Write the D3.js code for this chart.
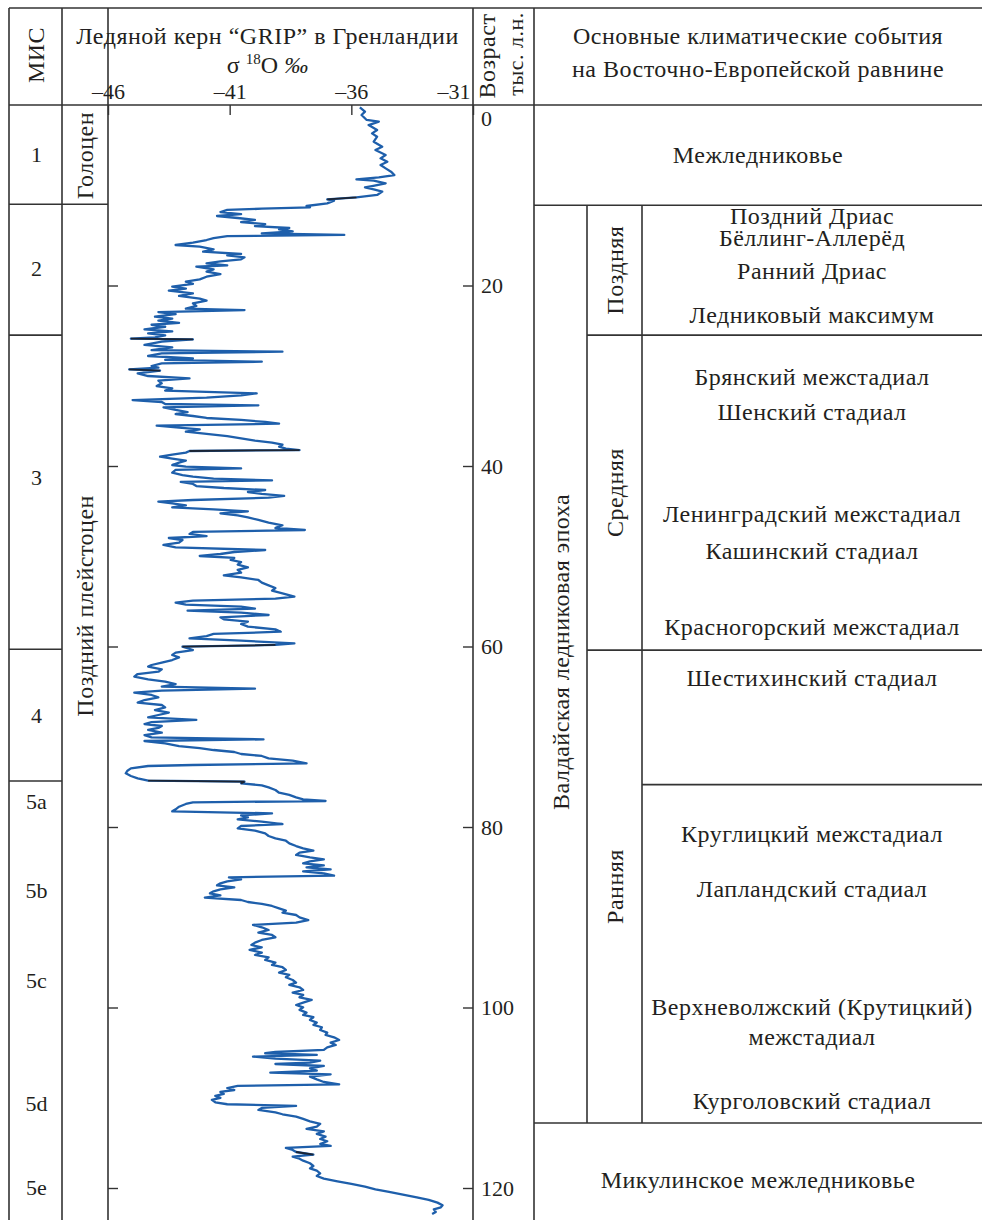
<!DOCTYPE html>
<html>
<head>
<meta charset="utf-8">
<script src="https://cdn.jsdelivr.net/npm/d3@7"></script>
<style>
  body { margin: 0; background: #fff; }
  text { font-family: "Liberation Serif", "Times New Roman", serif; fill: #231f20; }
</style>
</head>
<body>
<svg id="chart" width="982" height="1220"></svg>
<script>
// GRIP ice core samples: [age, thousand years BP; δ18O, ‰]
const gripSamples = [
  [0.26,-35.65],[0.74,-35.44],[1.11,-35.58],[1.66,-35.37],[1.85,-34.87],[2.22,-35.29],[2.77,-34.94],[3.14,-35.15],
  [3.51,-34.94],[4.06,-35.08],[4.62,-34.73],[4.99,-35.01],[5.54,-34.59],[5.91,-34.80],[6.28,-34.52],[6.65,-34.80],
  [7.02,-34.59],[7.39,-34.37],[7.76,-34.23],[8.01,-34.87],[8.24,-35.79],[8.39,-35.08],[8.68,-34.59],[8.98,-35.15],
  [9.12,-35.44],[9.35,-35.08],[9.60,-34.73],[9.97,-34.94],[10.23,-35.79],[10.45,-36.99],[10.60,-36.71],[10.90,-36.99],
  [11.19,-37.84],[11.34,-37.70],[11.49,-39.68],[11.63,-41.10],[11.86,-41.38],[12.08,-40.53],[12.30,-41.52],[12.52,-40.67],
  [12.74,-39.96],[12.97,-40.53],[13.19,-39.54],[13.41,-39.96],[13.63,-38.55],[13.78,-38.97],[14.00,-38.41],[14.22,-39.68],
  [14.40,-36.29],[14.52,-41.10],[14.74,-41.66],[14.96,-41.95],[15.25,-42.51],[15.51,-43.22],[15.70,-42.23],[15.99,-41.66],
  [16.25,-42.09],[16.51,-40.53],[16.66,-41.10],[16.88,-40.39],[17.10,-40.53],[17.32,-41.38],[17.55,-41.95],[17.77,-41.10],
  [17.92,-42.37],[18.21,-41.66],[18.47,-41.95],[18.73,-41.38],[19.03,-41.95],[19.32,-42.23],[19.58,-42.80],[19.83,-42.51],
  [20.13,-43.36],[20.35,-42.80],[20.57,-43.50],[20.87,-42.51],[21.16,-43.08],[21.46,-42.23],[21.68,-41.95],[21.98,-42.51],
  [22.27,-42.37],[22.57,-42.80],[22.72,-40.39],[22.94,-43.93],[23.16,-43.22],[23.46,-44.07],[23.68,-43.36],[23.90,-43.93],
  [24.13,-43.08],[24.35,-44.21],[24.57,-43.65],[24.86,-44.50],[25.08,-43.36],[25.30,-44.35],[25.52,-43.65],[25.74,-44.07],
  [25.89,-45.06],[25.97,-42.51],
  [26.22,-43.79],[26.59,-44.50],[26.85,-43.36],[27.15,-44.21],[27.33,-38.83],[27.52,-43.79],[27.81,-44.35],[28.07,-42.51],
  [28.25,-43.65],[28.44,-39.68],[28.62,-43.79],[28.92,-44.21],[29.10,-43.93],[29.29,-45.13],[29.44,-43.86],[29.73,-44.78],
  [30.03,-44.35],[30.29,-42.65],[30.54,-43.93],[30.84,-43.79],[31.14,-44.00],[31.39,-43.36],[31.65,-43.65],[31.95,-39.89],
  [32.17,-40.53],[32.43,-41.95],[32.69,-44.99],[32.91,-43.79],[33.13,-43.65],[33.28,-39.82],[33.50,-43.72],[33.79,-43.22],
  [34.02,-42.73],[34.24,-43.22],[34.46,-42.51],[34.68,-41.95],[34.90,-40.53],[35.12,-39.54],[35.31,-38.97],[35.53,-44.00],
  [35.75,-43.08],[35.94,-42.23],[36.20,-42.80],[36.45,-41.95],[36.68,-41.10],[36.93,-40.53],[37.19,-39.96],[37.41,-39.26],
  [37.64,-38.83],[37.86,-38.97],[38.08,-38.69],[38.23,-38.13],[38.34,-42.65],[38.52,-42.80],[38.74,-43.36],[38.97,-43.86],
  [39.19,-43.36],[39.41,-42.80],[39.63,-43.08],[39.89,-43.36],[40.07,-42.80],[40.26,-40.53],[40.44,-43.22],[40.74,-43.36],
  [41.00,-42.94],[41.18,-42.51],[41.40,-41.66],[41.59,-39.26],[41.77,-43.01],[41.99,-42.51],[42.22,-42.37],[42.44,-41.24],
  [42.66,-39.54],[42.88,-40.25],[43.10,-39.68],[43.32,-38.76],[43.51,-39.40],[43.77,-42.51],[43.95,-43.93],[44.14,-43.36],
  [44.36,-42.80],[44.58,-43.36],[44.80,-41.66],[45.02,-40.25],[45.24,-41.38],[45.47,-40.67],[45.69,-40.25],[45.98,-39.82],
  [46.28,-39.40],[46.57,-38.83],[46.87,-39.12],[47.09,-37.91],[47.31,-42.51],[47.53,-42.65],[47.76,-41.95],[47.98,-43.50],
  [48.20,-42.94],[48.49,-43.08],[48.75,-43.72],[49.01,-43.22],[49.31,-39.54],[49.53,-40.81],[49.75,-41.38],[49.97,-42.23],
  [50.19,-40.81],[50.41,-40.96],[50.64,-40.53],[50.93,-40.67],[51.23,-40.25],[51.52,-40.67],[51.82,-40.53],[52.11,-41.24],
  [52.34,-40.53],[52.63,-39.82],[52.93,-39.68],[53.22,-39.40],[53.52,-39.12],[53.81,-39.26],[54.11,-38.83],[54.48,-38.34],
  [54.70,-39.12],[54.92,-42.51],[55.14,-43.22],[55.36,-42.80],[55.59,-40.53],[55.81,-39.96],[56.03,-42.73],[56.25,-40.53],
  [56.51,-39.40],[56.77,-41.38],[56.99,-41.24],[57.25,-40.25],[57.51,-40.53],[57.80,-40.25],[58.10,-39.12],[58.36,-38.90],
  [58.61,-41.66],[58.84,-41.95],[59.09,-42.65],[59.35,-40.53],[59.65,-38.34],[59.83,-39.12],[60.02,-42.94],
  [60.39,-42.51],[60.68,-43.22],[60.94,-43.36],[61.20,-43.08],[61.50,-43.36],[61.79,-43.79],[62.05,-44.21],[62.23,-44.35],
  [62.53,-43.79],[62.79,-43.93],[63.05,-44.78],[63.34,-44.92],[63.64,-44.35],[63.90,-43.65],[64.16,-43.22],[64.45,-43.79],
  [64.67,-39.96],[64.89,-43.79],[65.12,-44.92],[65.37,-44.21],[65.63,-43.93],[65.93,-44.50],[66.22,-44.78],[66.48,-43.79],
  [66.74,-43.65],[67.04,-44.07],[67.33,-43.50],[67.59,-43.93],[67.85,-44.35],[68.14,-42.37],[68.37,-44.21],[68.59,-44.50],
  [68.81,-43.79],[69.03,-43.93],[69.25,-44.35],[69.55,-43.79],[69.81,-44.50],[70.07,-44.21],[70.29,-39.61],[70.47,-44.50],
  [70.73,-43.65],[71.03,-43.08],[71.25,-42.23],[71.47,-41.66],[71.69,-40.81],[71.91,-40.53],[72.13,-39.68],[72.39,-39.40],
  [72.65,-38.41],[72.95,-37.84],[73.13,-42.51],[73.24,-44.35],[73.50,-45.06],[73.76,-45.20],[74.05,-45.27],[74.35,-45.06],
  [74.61,-44.78],[74.87,-44.35],[74.98,-40.39],[75.16,-40.53],[75.38,-39.68],[75.61,-39.40],[75.90,-39.12],[76.20,-38.97],
  [76.45,-38.55],[76.71,-38.27],[76.93,-37.98],[77.12,-37.06],[77.27,-42.51],[77.45,-42.80],[77.75,-43.08],[78.04,-43.22],
  [78.26,-43.36],[78.49,-39.26],[78.71,-40.53],[78.93,-40.25],[79.15,-40.67],[79.41,-39.68],[79.67,-38.83],[79.89,-40.53],
  [80.15,-40.67],[80.41,-39.96],[80.70,-39.54],[81.00,-39.40],[81.26,-39.12],[81.52,-38.69],[81.81,-38.55],[82.11,-38.27],
  [82.36,-37.98],[82.62,-37.56],[82.84,-38.13],[83.10,-38.27],[83.36,-37.70],[83.58,-37.13],[83.80,-37.70],[84.03,-37.98],
  [84.25,-37.13],[84.47,-37.84],[84.69,-36.85],[84.91,-37.98],[85.13,-37.13],[85.39,-36.71],[85.58,-41.03],[85.80,-40.53],
  [86.02,-41.10],[86.24,-41.38],[86.46,-41.52],[86.69,-40.81],[86.91,-41.38],[87.13,-41.66],[87.35,-41.81],[87.57,-41.38],
  [87.83,-42.02],[88.09,-40.53],[88.31,-40.25],[88.53,-39.68],[88.75,-39.26],[89.01,-38.97],[89.27,-38.69],[89.49,-38.83],
  [89.75,-38.27],[90.01,-38.13],[90.31,-37.77],
  [90.60,-38.27],[90.85,-40.04],[91.11,-39.68],[91.41,-39.40],[91.70,-39.82],[91.96,-39.26],[92.22,-39.12],[92.52,-39.68],
  [92.81,-39.96],[93.07,-40.11],[93.33,-39.68],[93.62,-40.18],[93.92,-39.68],[94.18,-39.96],[94.44,-39.40],[94.73,-39.54],
  [95.03,-39.12],[95.29,-39.26],[95.54,-38.83],[95.84,-38.69],[96.14,-38.97],[96.39,-38.55],[96.65,-38.69],[96.95,-38.41],
  [97.24,-38.27],[97.50,-38.55],[97.76,-38.13],[98.06,-37.98],[98.35,-38.41],[98.61,-37.98],[98.87,-38.13],[99.16,-37.63],
  [99.46,-37.98],[99.72,-38.27],[99.98,-37.98],[100.27,-38.13],[100.57,-37.84],[100.83,-37.98],[101.08,-37.56],[101.38,-37.70],
  [101.68,-37.42],[101.93,-37.56],[102.19,-37.21],[102.49,-37.28],[102.78,-36.99],[103.04,-37.06],[103.30,-36.71],[103.60,-36.50],
  [103.89,-36.85],[104.15,-36.64],[104.41,-36.99],[104.70,-37.13],[104.93,-39.12],[105.07,-39.54],[105.26,-37.42],[105.44,-40.04],
  [105.66,-39.12],[105.89,-37.28],[106.11,-37.70],[106.26,-39.12],[106.48,-37.13],[106.74,-37.70],[106.99,-37.42],[107.22,-39.33],
  [107.40,-36.85],[107.66,-37.70],[107.96,-37.42],[108.25,-37.13],[108.51,-36.50],[108.69,-40.67],[108.92,-41.10],[109.14,-40.81],
  [109.36,-41.38],[109.58,-41.24],[109.80,-41.59],[110.02,-41.38],[110.24,-41.73],[110.50,-41.59],[110.72,-41.10],[110.91,-38.27],
  [111.13,-39.68],[111.35,-39.82],[111.61,-39.12],[111.83,-38.83],[112.09,-38.27],[112.35,-37.98],[112.61,-37.70],[112.90,-37.28],
  [113.20,-37.42],[113.46,-37.84],[113.72,-37.13],[114.01,-37.42],[114.31,-37.06],[114.57,-37.28],[114.82,-36.99],[115.12,-37.28],
  [115.34,-36.85],[115.56,-38.69],[115.78,-38.41],[116.01,-38.27],[116.30,-37.56],[116.52,-38.41],[116.75,-38.13],[116.97,-37.98],
  [117.26,-37.70],[117.56,-37.56],[117.82,-37.70],[118.08,-37.42],[118.37,-37.28],[118.67,-37.42],[118.96,-37.13],[119.26,-36.57],
  [119.55,-36.00],[119.85,-35.44],[120.14,-35.01],[120.44,-34.45],[120.73,-33.88],[121.03,-33.31],[121.32,-32.82],[121.62,-32.46],
  [121.92,-32.25],[122.14,-32.32],[122.36,-32.61],[122.65,-32.53],[122.88,-32.68]
];

// Age intervals (ka) whose trace is printed in dark ink
const darkIntervals = [[10.2, 10.5], [25.85, 26.0], [29.25, 29.45], [38.2, 38.35], [59.8, 60.05], [74.85, 75.2], [116.0, 116.3]];

// Axis ticks
const d18OTicks = [-46, -41, -36, -31];
const ageTicks = [0, 20, 40, 60, 80, 100, 120];

// Marine isotope stages
const misBounds = [11, 25.5, 60.3, 74.9];
const misLabels = ["1", "2", "3", "4", "5a", "5b", "5c", "5d", "5e"];
const misLabelAges = [5.5, 18.1, 41.3, 67.6, 77.2, 87.0, 97.0, 110.6, 119.9];

// Epochs
const epochLabels = ["Голоцен", "Поздний плейстоцен"];
const epochLabelAges = [5.6, 55.5];
const holoceneEnd = 11;

// Climatic framework of the East European Plain
const holoceneText = "Межледниковье";
const valdaiStart = 11.1, valdaiEnd = 112.8;
const valdaiLabel = "Валдайская ледниковая эпоха";
const valdaiLabelAge = 60.6;
const periodLabels = ["Поздняя", "Средняя", "Ранняя"];
const periodBounds = [11.1, 25.5, 60.4, 112.8];
const earlySplit = 75.3;
const eventLabels = [
  "Поздний Дриас", "Бёллинг-Аллерёд", "Ранний Дриас", "Ледниковый максимум",
  "Брянский межстадиал", "Шенский стадиал", "Ленинградский межстадиал", "Кашинский стадиал",
  "Красногорский межстадиал", "Шестихинский стадиал", "Круглицкий межстадиал", "Лапландский стадиал",
  "Верхневолжский (Крутицкий)", "межстадиал", "Курголовский стадиал"
];
const eventLabelAges = [12.3, 14.7, 18.4, 23.2, 30.1, 34.0, 45.3, 49.4, 57.8, 63.5, 80.7, 86.8, 99.9, 103.2, 110.3];
const mikulinoText = "Микулинское межледниковье";
const mikulinoLabelAge = 119.1;

// ---- layout ----
const W = 982, H = 1220;
const col = { left: 9, misR: 62, epochR: 108, plotR: 473, ageR: 534, valdaiR: 587, periodR: 642, right: 982 };
const topY = 8, headY = 105;
const FS = 24;      // text
const NFS = 22;     // numerals
const LS = "0.5px"; // letter spacing of text
const lineColor = "#333";

const svg = d3.select("#chart");
svg.append("rect").attr("width", W).attr("height", H).attr("fill", "#fff");

const x = d3.scaleLinear().domain([-46, -31]).range([col.epochR, col.plotR]);
const y = d3.scaleLinear().domain([0, 120]).range([headY, 1188]);

// ---- curve ----
const line = d3.line().x(d => x(d[1])).y(d => y(d[0]));
svg.append("path")
  .datum(gripSamples)
  .attr("fill", "none")
  .attr("stroke", "#1e5fab")
  .attr("stroke-width", 2.3)
  .attr("stroke-linejoin", "round")
  .attr("d", line);

// darker pieces of the trace
svg.append("g").selectAll("path")
  .data(darkIntervals.map(([a0, a1]) => gripSamples.filter(d => d[0] >= a0 && d[0] <= a1)))
  .join("path")
  .attr("fill", "none")
  .attr("stroke", "#1b2433")
  .attr("stroke-width", 1.8)
  .attr("d", line);

// ---- grid lines ----
const g = svg.append("g").attr("stroke", lineColor).attr("stroke-width", 1.6).attr("fill", "none");
const hl = (x1, x2, yy) => g.append("line").attr("x1", x1).attr("x2", x2).attr("y1", yy).attr("y2", yy);
const vl = (xx, y1, y2) => g.append("line").attr("x1", xx).attr("x2", xx).attr("y1", y1).attr("y2", y2);

hl(col.left, col.right, topY);
hl(col.left, col.right, headY);
[col.left, col.misR, col.epochR, col.plotR, col.ageR].forEach(xx => vl(xx, topY, H));
misBounds.forEach(a => hl(col.left, col.misR, y(a)));
hl(col.misR, col.epochR, y(holoceneEnd));
hl(col.ageR, col.right, y(valdaiStart));
hl(col.ageR, col.right, y(valdaiEnd));
vl(col.valdaiR, y(valdaiStart), y(valdaiEnd));
vl(col.periodR, y(valdaiStart), y(valdaiEnd));
periodBounds.slice(1, 3).forEach(a => hl(col.valdaiR, col.right, y(a)));
hl(col.periodR, col.right, y(earlySplit));

// ---- axes ----
const fmt = d => "–" + Math.abs(d);
const topAxis = svg.append("g")
  .attr("transform", `translate(0,${headY})`)
  .call(d3.axisTop(x).tickValues(d18OTicks).tickSizeInner(-10).tickSizeOuter(0).tickPadding(6).tickFormat(fmt));
topAxis.select(".domain").remove();
topAxis.selectAll("line").attr("stroke", lineColor).attr("stroke-width", 1.4);
topAxis.selectAll("text").attr("font-size", NFS).attr("fill", "#231f20")
  .attr("font-family", "Liberation Serif, serif");
topAxis.selectAll(".tick").filter(d => d === -31).select("text").attr("text-anchor", "end").attr("x", -3);

const leftAxis = svg.append("g")
  .attr("transform", `translate(${col.epochR},0)`)
  .call(d3.axisRight(y).tickValues(ageTicks.slice(1)).tickSize(10).tickFormat(""));
leftAxis.select(".domain").remove();
leftAxis.selectAll("line").attr("stroke", lineColor).attr("stroke-width", 1.4);

const rightAxis = svg.append("g")
  .attr("transform", `translate(${col.plotR},0)`)
  .call(d3.axisRight(y).tickValues(ageTicks).tickSizeInner(-10).tickSizeOuter(0).tickPadding(8).tickFormat(d3.format("d")));
rightAxis.select(".domain").remove();
rightAxis.selectAll("line").attr("stroke", lineColor).attr("stroke-width", 1.4);
rightAxis.selectAll("text").attr("font-size", NFS).attr("fill", "#231f20")
  .attr("font-family", "Liberation Serif, serif");
rightAxis.selectAll(".tick").filter(d => d === 0).select("line").remove();
rightAxis.selectAll(".tick").filter(d => d === 0).select("text").attr("dy", "0.95em");

// ---- text helpers ----
const txt = (s, xx, yy, opts = {}) => svg.append("text")
  .attr("x", xx).attr("y", yy)
  .attr("text-anchor", "middle")
  .attr("dy", opts.dy ?? "0.35em")
  .attr("font-size", opts.fs ?? FS)
  .attr("letter-spacing", opts.ls ?? LS)
  .text(s);
const vtxt = (s, xx, yy, opts = {}) => svg.append("text")
  .attr("transform", `translate(${xx},${yy}) rotate(-90)`)
  .attr("text-anchor", "middle")
  .attr("dy", "0.35em")
  .attr("font-size", opts.fs ?? FS)
  .attr("letter-spacing", opts.ls ?? LS)
  .text(s);

// header
vtxt("МИС", (col.left + col.misR) / 2, 55);
txt("Ледяной керн “GRIP” в Гренландии", (col.misR + col.plotR) / 2, 44, { dy: 0 });
const sig = svg.append("text").attr("x", (col.misR + col.plotR) / 2).attr("y", 73)
  .attr("text-anchor", "middle").attr("font-size", FS);
sig.append("tspan").text("σ ");
sig.append("tspan").attr("font-size", 15).attr("dy", -9).text("18");
sig.append("tspan").attr("dy", 9).text("O ");
sig.append("tspan").attr("font-style", "italic").text("‰");
vtxt("Возраст", 487, 56);
vtxt("тыс. л.н.", 515, 54, { fs: 22 });
txt("Основные климатические события", (col.ageR + col.right) / 2, 44, { dy: 0 });
txt("на Восточно-Европейской равнине", (col.ageR + col.right) / 2, 77, { dy: 0 });

// MIS labels
misLabels.forEach((s, i) => txt(s, (col.left + col.misR) / 2 + 1, y(misLabelAges[i]), { fs: NFS, ls: 0 }));
// epochs
epochLabels.forEach((s, i) => vtxt(s, (col.misR + col.epochR) / 2, y(epochLabelAges[i])));

// right block
txt(holoceneText, (col.ageR + col.right) / 2, y((0 + valdaiStart) / 2));
vtxt(valdaiLabel, (col.ageR + col.valdaiR) / 2, y(valdaiLabelAge));
periodLabels.forEach((s, i) => vtxt(s, (col.valdaiR + col.periodR) / 2, y((periodBounds[i] + periodBounds[i + 1]) / 2)));
eventLabels.forEach((s, i) => txt(s, (col.periodR + col.right) / 2, y(eventLabelAges[i])));
txt(mikulinoText, (col.ageR + col.right) / 2, y(mikulinoLabelAge));
</script>
</body>
</html>
